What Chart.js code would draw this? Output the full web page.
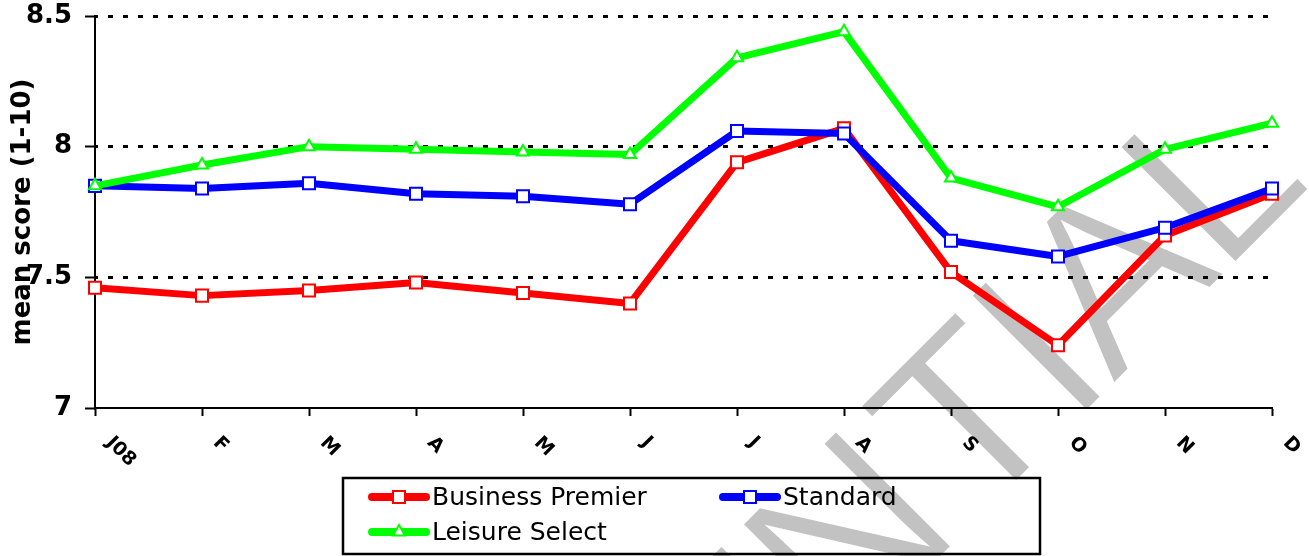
<!DOCTYPE html>
<html><head><meta charset="utf-8">
<script src="https://cdn.jsdelivr.net/npm/chart.js@4.4.1/dist/chart.umd.min.js"></script>
<style>html,body{margin:0;padding:0;background:#fff;}#wrap{width:1309px;height:556px;}</style>
</head><body><div id="wrap"><canvas id="c" width="1309" height="556"></canvas></div>
<script>
const categories = ['J08','F','M','A','M','J','J','A','S','O','N','D'];
const businessPremier = [7.46,7.43,7.45,7.48,7.44,7.40,7.94,8.07,7.52,7.24,7.66,7.82];
const standard = [7.85,7.84,7.86,7.82,7.81,7.78,8.06,8.05,7.64,7.58,7.69,7.84];
const leisureSelect = [7.85,7.93,8.00,7.99,7.98,7.97,8.34,8.44,7.88,7.77,7.99,8.09];
const yTicks = [7, 7.5, 8, 8.5];
const seriesNames = ['Business Premier','Standard','Leisure Select'];
const yTitle = 'mean score (1-10)';
const watermarkHead = 'CONFIDEN';
const watermarkTail = 'TIAL';

const FONT = '"DejaVu Sans", Verdana, sans-serif';

function drawMarker(ctx, style, x, y, color) {
  ctx.save();
  ctx.fillStyle = '#fff';
  ctx.strokeStyle = color;
  ctx.lineWidth = 2;
  ctx.beginPath();
  if (style === 'triangle') {
    const r = 7;
    ctx.moveTo(x, y - r);
    ctx.lineTo(x + r * Math.sin(2*Math.PI/3), y - r * Math.cos(2*Math.PI/3));
    ctx.lineTo(x + r * Math.sin(4*Math.PI/3), y - r * Math.cos(4*Math.PI/3));
    ctx.closePath();
  } else {
    ctx.rect(x - 6, y - 6, 12, 12);
  }
  ctx.fill();
  ctx.stroke();
  ctx.restore();
}

const customPlugin = {
  id: 'custom',
  beforeDraw(chart) {
    const ctx = chart.ctx;
    ctx.save();
    ctx.fillStyle = '#fff';
    ctx.fillRect(0, 0, chart.width, chart.height);
    // watermark (rotated -45deg, u along baseline, v across)
    ctx.rotate(-Math.PI / 4);
    ctx.font = '240px "Liberation Sans", Arial, sans-serif';
    try { ctx.letterSpacing = '-7px'; } catch (e) {}
    ctx.textBaseline = 'alphabetic';
    ctx.fillStyle = '#c2c2c2';
    ctx.strokeStyle = '#fff';
    ctx.lineWidth = 4;
    const u0 = 315, v0 = 1060;
    ctx.textAlign = 'left';
    ctx.fillText(watermarkTail, u0, v0);
    ctx.strokeText(watermarkTail, u0, v0);
    ctx.textAlign = 'right';
    ctx.fillText(watermarkHead, u0 - 15, v0);
    ctx.strokeText(watermarkHead, u0 - 15, v0);
    ctx.restore();
  },
  afterDraw(chart) {
    const ctx = chart.ctx;
    const xs = chart.scales.x;
    const area = chart.chartArea;
    // x labels rotated +45deg
    ctx.save();
    ctx.font = 'bold 19px ' + FONT;
    ctx.fillStyle = '#000';
    ctx.textAlign = 'left';
    ctx.textBaseline = 'middle';
    categories.forEach((lab, i) => {
      const x = xs.getPixelForTick(i);
      ctx.save();
      ctx.translate(x + 14, area.bottom + 32);
      ctx.rotate(Math.PI / 4);
      ctx.fillText(lab, 0, 0);
      ctx.restore();
    });
    ctx.restore();
    // y title
    ctx.save();
    ctx.font = 'bold 26px ' + FONT;
    ctx.fillStyle = '#000';
    ctx.textAlign = 'center';
    ctx.textBaseline = 'alphabetic';
    ctx.translate(30, (area.top + area.bottom) / 2);
    ctx.rotate(-Math.PI / 2);
    ctx.fillText(yTitle, 0, 0);
    ctx.restore();
    // legend
    ctx.save();
    ctx.strokeStyle = '#000';
    ctx.lineWidth = 2.5;
    ctx.strokeRect(343, 478, 697, 76);
    ctx.font = '25px ' + FONT;
    ctx.textAlign = 'left';
    ctx.textBaseline = 'middle';
    chart.data.datasets.slice().sort((a, b) => a.legendIndex - b.legendIndex).forEach((ds, i) => {
      const col = i % 2, row = Math.floor(i / 2);
      const x0 = 372 + col * 351;
      const y0 = 497 + row * 35;
      ctx.save();
      ctx.strokeStyle = ds.borderColor;
      ctx.lineWidth = 8;
      ctx.lineCap = 'round';
      ctx.beginPath();
      ctx.moveTo(x0, y0);
      ctx.lineTo(x0 + 54, y0);
      ctx.stroke();
      ctx.restore();
      drawMarker(ctx, ds.pointStyle, x0 + 27, y0, ds.borderColor);
      ctx.fillStyle = '#000';
      ctx.fillText(ds.label, x0 + 60, y0 + 1);
    });
    ctx.restore();
  }
};

function makeDs(label, data, color, style, order, legendIndex) {
  return {
    label, data, order, legendIndex,
    borderColor: color,
    backgroundColor: '#fff',
    borderWidth: 7,
    borderJoinStyle: 'round',
    tension: 0,
    pointStyle: style,
    pointRadius: style === 'triangle' ? 7 : 8.5,
    pointHoverRadius: style === 'triangle' ? 7 : 8.5,
    pointBorderWidth: 2,
    pointBackgroundColor: '#fff',
    pointBorderColor: color,
    fill: false
  };
}

new Chart(document.getElementById('c'), {
  type: 'line',
  data: {
    labels: categories,
    datasets: [
      makeDs(seriesNames[0], businessPremier, '#ff0000', 'rect', 3, 0),
      makeDs(seriesNames[1], standard, '#0000ff', 'rect', 2, 1),
      makeDs(seriesNames[2], leisureSelect, '#00ff00', 'triangle', 1, 2)
    ]
  },
  options: {
    responsive: false,
    devicePixelRatio: 1,
    animation: false,
    events: [],
    layout: { padding: { top: 16, right: 37, left: 0, bottom: 0 } },
    plugins: { legend: { display: false }, tooltip: { enabled: false } },
    scales: {
      x: {
        type: 'category',
        offset: false,
        grid: { display: true, drawOnChartArea: false, drawTicks: true, tickLength: 8, tickColor: '#000', tickWidth: 2, color: '#000' },
        border: { display: true, color: '#000', width: 2 },
        ticks: { display: false },
        afterFit: s => { s.height = 148; s.paddingLeft = 0; s.paddingRight = 0; }
      },
      y: {
        min: 7, max: 8.5,
        afterBuildTicks: s => { s.ticks = yTicks.map(v => ({ value: v })); },
        ticks: {
          font: { family: FONT, size: 26, weight: 'bold' },
          color: '#000',
          padding: 13,
          callback: v => String(v)
        },
        grid: {
          color: c => (c.tick && c.tick.value === yTicks[0]) ? 'rgba(0,0,0,0)' : '#000',
          lineWidth: 3,
          drawTicks: true,
          tickLength: 10,
          tickColor: '#000',
          tickWidth: 2
        },
        border: { display: true, color: '#000', width: 2, dash: [5, 10], dashOffset: 3 },
        afterFit: s => { s.width = 95; s.paddingTop = 0; s.paddingBottom = 0; }
      }
    }
  },
  plugins: [customPlugin]
});
</script>
</body></html>
